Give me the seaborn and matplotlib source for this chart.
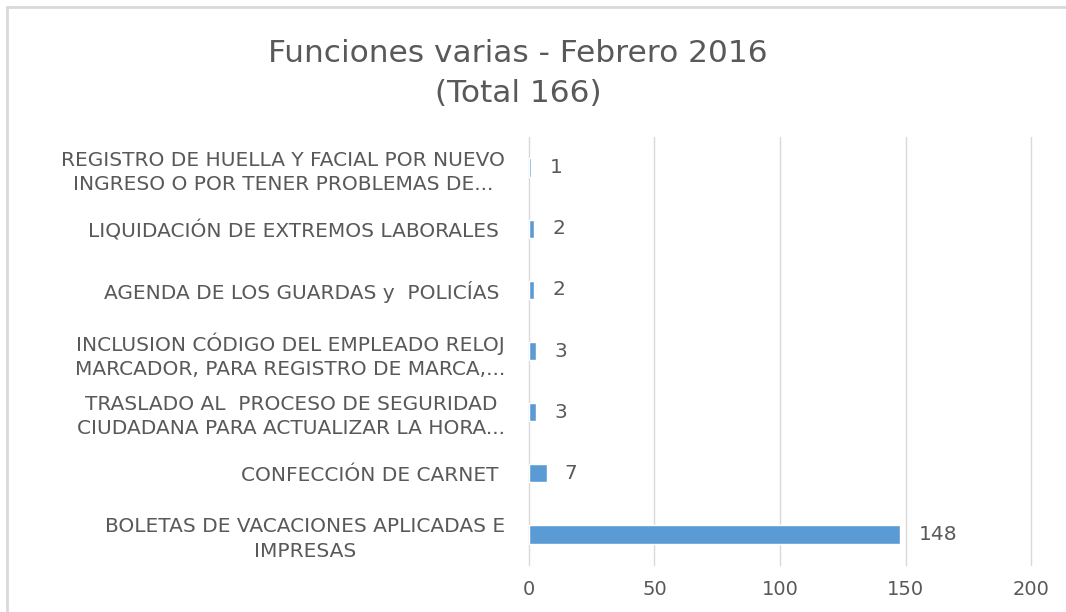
import numpy as np
import pandas as pd
import matplotlib as mpl
from matplotlib import pyplot as plt
from matplotlib.lines import Line2D
import seaborn as sns

# Categories top to bottom, as shown in the chart
categorias = [
    "REGISTRO DE HUELLA Y FACIAL POR NUEVO\nINGRESO O POR TENER PROBLEMAS DE...",
    "LIQUIDACIÓN DE EXTREMOS LABORALES ",
    "AGENDA DE LOS GUARDAS y  POLICÍAS ",
    "INCLUSION CÓDIGO DEL EMPLEADO RELOJ\nMARCADOR, PARA REGISTRO DE MARCA,...",
    "TRASLADO AL  PROCESO DE SEGURIDAD\nCIUDADANA PARA ACTUALIZAR LA HORA...",
    "CONFECCIÓN DE CARNET ",
    "BOLETAS DE VACACIONES APLICADAS E\nIMPRESAS",
]
cantidades = [1, 2, 2, 3, 3, 7, 148]
ticks_x = [0, 50, 100, 150, 200]

dframe = pd.DataFrame({"Funcion": categorias, "Cantidad": cantidades})

sns.set_style("white")
plt.rcParams['font.family'] = ['DejaVu Sans']
gris = '#595959'

fig = plt.figure(figsize=(10.66, 6.12), dpi=100)
ax = fig.add_axes([0.4962, 0.0768, 0.4710, 0.6993])

sns.barplot(ax=ax, data=dframe, y="Funcion", x="Cantidad", orient="h",
            color="#5B9BD5", width=0.3, saturation=1)

ax.set_xlim(0, 200)
ax.set_xticks(ticks_x)
ax.xaxis.grid(True, color='#d9d9d9', linewidth=1)
for gl in ax.get_xgridlines():
    gl.set_clip_on(False)
ax.set_axisbelow(True)
for s in ax.spines.values():
    s.set_visible(False)
ax.set_xlabel("")
ax.set_ylabel("")
ax.tick_params(axis='x', length=0, pad=11, labelsize=14, labelcolor=gris)
ax.tick_params(axis='y', length=0, pad=17, labelsize=14.5, labelcolor=gris)
for lbl in ax.get_yticklabels():
    lbl.set_multialignment('center')
    lbl.set_linespacing(1.35)

# data labels
for i, v in enumerate(cantidades):
    ax.annotate(str(v), xy=(v, i), xytext=(13, 0), textcoords='offset points',
                va='center', ha='left', fontsize=14.5, color=gris)

fig.text(0.486, 0.880, "Funciones varias - Febrero 2016\n(Total 166)",
         ha='center', va='center', fontsize=22.5, color=gris, linespacing=1.45)

# chart area border (top and left edges visible)
fig.add_artist(Line2D([7/1066, 1], [1-7/612, 1-7/612], transform=fig.transFigure,
                      color='#d9d9d9', linewidth=2))
fig.add_artist(Line2D([7/1066, 7/1066], [0, 1-7/612], transform=fig.transFigure,
                      color='#d9d9d9', linewidth=2))

fig.savefig("out.png", dpi=100)
